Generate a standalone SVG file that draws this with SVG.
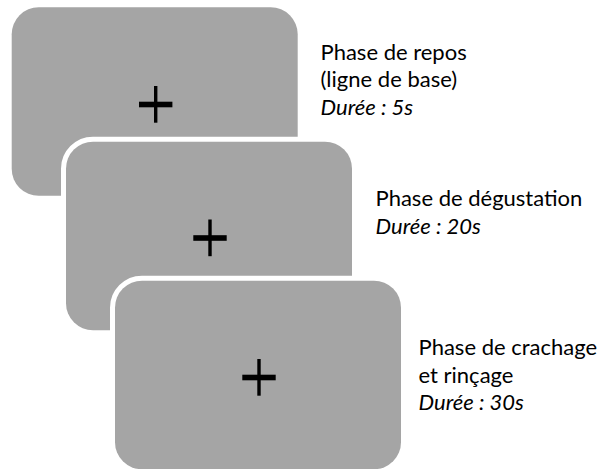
<svg xmlns="http://www.w3.org/2000/svg" width="609" height="469" viewBox="0 0 609 469">
<style>
.card{fill:#A5A5A5;stroke:#FFFFFF;stroke-width:10;paint-order:stroke}
.cross{fill:#000000}
.lbl{font-family:Lato,"Open Sans","Liberation Sans",sans-serif;font-size:22px;fill:#000000}
.it{font-style:italic}
</style>
<defs>
<g id="cross">
<rect x="-16.7" y="-2.8" width="33.4" height="5.6"/>
<rect x="-1.7" y="-18.5" width="3.4" height="36.7"/>
</g>
</defs>
<rect width="609" height="469" fill="#FFFFFF"/>
<g id="phase-repos">
<rect class="card" x="11.7" y="7.3" width="286" height="188.5" rx="27" ry="27" stroke="none"/>
<use href="#cross" class="cross" x="155.7" y="104.5"/>
<text class="lbl" x="320.5" y="59.5">Phase de repos</text>
<text class="lbl" x="320.5" y="87">(ligne de base)</text>
<text class="lbl it" x="320.5" y="114.5">Durée : 5s</text>
</g>
<g id="phase-degustation">
<rect class="card" x="66" y="141.7" width="286" height="188.5" rx="27" ry="27"/>
<use href="#cross" class="cross" x="210" y="238"/>
<text class="lbl" x="375.5" y="206">Phase de dégustation</text>
<text class="lbl it" x="375.5" y="233.5">Durée : 20s</text>
</g>
<g id="phase-crachage">
<rect class="card" x="115" y="280.7" width="286" height="188.5" rx="27" ry="27"/>
<use href="#cross" class="cross" x="259" y="377.5"/>
<text class="lbl" x="418.5" y="355">Phase de crachage</text>
<text class="lbl" x="418.5" y="382.5">et rinçage</text>
<text class="lbl it" x="418.5" y="410">Durée : 30s</text>
</g>
<g id="connectors"/>
</svg>
